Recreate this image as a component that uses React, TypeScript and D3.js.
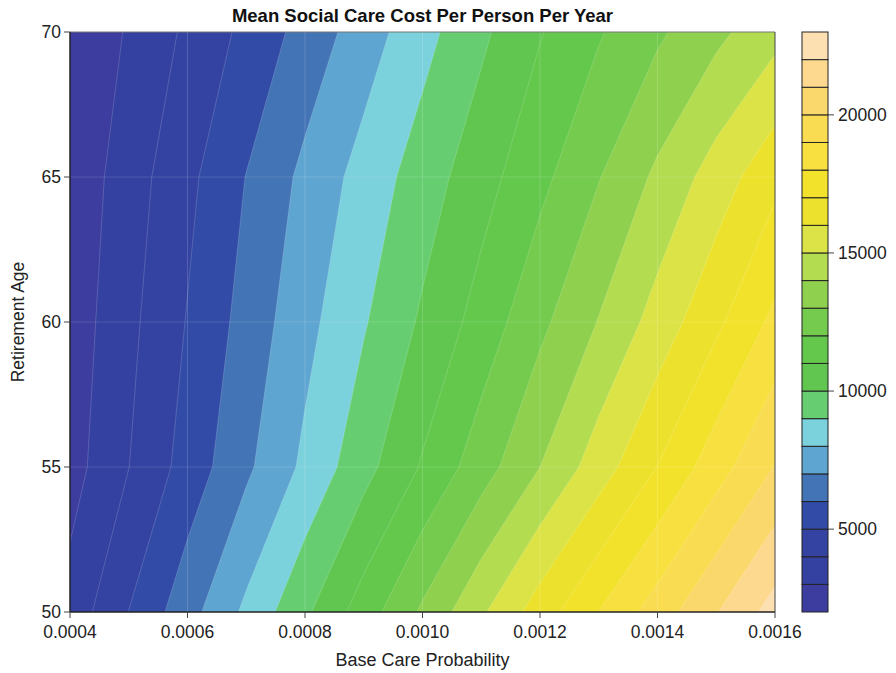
import { useMemo } from "react";
import * as d3 from "d3";

// grid of the underlying simulation runs
const probabilities = [
  0.0004, 0.0005, 0.0006, 0.0007, 0.0008, 0.0009, 0.001, 0.0011, 0.0012,
  0.0013, 0.0014, 0.0015, 0.0016,
];
const retirementAges = [50, 55, 60, 65, 70];

// mean cost per person per year, one row per retirement age
const costAge50 = [3380, 5013, 6613, 8211, 9812, 11487, 13166, 14844, 16500, 18012, 19480, 20949, 22417];
const costAge55 = [2589, 3987, 5396, 6812, 8215, 9651, 11102, 12549, 14000, 15512, 17021, 18555, 20043];
const costAge60 = [2420, 3747, 5056, 6367, 7683, 8908, 10156, 11399, 12761, 14047, 15404, 16790, 18250];
const costAge65 = [2276, 3515, 4752, 6026, 7249, 8383, 9488, 10605, 11724, 12952, 14203, 15462, 16739];
const costAge70 = [2034, 3111, 4186, 5259, 6363, 7499, 8655, 9798, 10936, 11899, 12830, 13756, 14682];

const contourLevels = d3.range(2000, 23000, 1000);
const bandColors = [
  "#3d3c9f", "#3541a0", "#3443a1", "#324ba6", "#4374b5", "#5fa5d1",
  "#7bd1dc", "#66ce71", "#60c64f", "#64c84c", "#74cb4d", "#8fd04e",
  "#b3dc50", "#dce346", "#ece22e", "#f2e22c", "#f7e040", "#f9dc52",
  "#fbd86b", "#fcd98f", "#fde0b1",
];
const xTicks = [0.0004, 0.0006, 0.0008, 0.001, 0.0012, 0.0014, 0.0016];
const yTicks = [50, 55, 60, 65, 70];
const barTicks = [5000, 10000, 15000, 20000];

const W = 896;
const H = 673;
const margin = { top: 32, right: 121, bottom: 61, left: 70 };
const FONT = "'Liberation Sans', Arial, Helvetica, sans-serif";

export default function App() {
  const plotW = W - margin.left - margin.right;
  const plotH = H - margin.top - margin.bottom;
  const x0 = margin.left;
  const y0 = margin.top;
  const x1 = x0 + plotW;
  const y1 = y0 + plotH;

  const x = d3.scaleLinear().domain([0.0004, 0.0016]).range([x0, x1]);
  const y = d3.scaleLinear().domain([50, 70]).range([y1, y0]);

  const nx = probabilities.length;
  const ny = retirementAges.length;
  // grid coordinates: value i sits at i + 0.5
  const gx = d3.scaleLinear().domain([0.5, nx - 0.5]).range([x(probabilities[0]), x(probabilities[nx - 1])]);
  const gy = d3.scaleLinear().domain([0.5, ny - 0.5]).range([y(retirementAges[0]), y(retirementAges[ny - 1])]);

  const contours = useMemo(() => {
    const rows = [costAge50, costAge55, costAge60, costAge65, costAge70];
    const values = rows.flat();
    return d3.contours().size([nx, ny]).thresholds(contourLevels)(values);
  }, [nx, ny]);

  const path = d3.geoPath(
    d3.geoTransform({
      point(px, py) {
        this.stream.point(gx(px), gy(py));
      },
    })
  );

  const bar = d3.scaleLinear().domain([2000, 23000]).range([y1, y0]);
  const barX = 802;
  const barW = 26;

  return (
    <svg
      width={W}
      height={H}
      style={{ position: "absolute", left: 0, top: 0, background: "#fff" }}
      fontFamily={FONT}
    >
      <defs>
        <clipPath id="plot-clip">
          <rect x={x0} y={y0} width={plotW} height={plotH} />
        </clipPath>
      </defs>

      <text x={(x0 + x1) / 2} y={22} textAnchor="middle" fontSize={18.5} fontWeight="bold" fill="#111">
        Mean Social Care Cost Per Person Per Year
      </text>

      <g clipPath="url(#plot-clip)">
        {contours.map((c, i) => (
          <path
            key={c.value}
            d={path(c) || ""}
            fill={bandColors[i]}
            stroke="rgba(255,255,255,0.28)"
            strokeWidth={0.6}
          />
        ))}
        {xTicks.slice(1, -1).map((t) => (
          <line key={t} x1={x(t)} x2={x(t)} y1={y0} y2={y1} stroke="rgba(255,255,255,0.16)" strokeWidth={1} />
        ))}
        {yTicks.slice(1, -1).map((t) => (
          <line key={t} x1={x0} x2={x1} y1={y(t)} y2={y(t)} stroke="rgba(255,255,255,0.13)" strokeWidth={1} />
        ))}
      </g>

      {/* frame */}
      <line x1={x0} x2={x1} y1={y0} y2={y0} stroke="#777" strokeWidth={1} />
      <line x1={x1} x2={x1} y1={y0} y2={y1} stroke="#444" strokeWidth={1} />
      <line x1={x0} x2={x0} y1={y0} y2={y1} stroke="#222" strokeWidth={1.5} />
      <line x1={x0} x2={x1} y1={y1} y2={y1} stroke="#222" strokeWidth={1.5} />

      {/* x axis */}
      {xTicks.map((t) => (
        <g key={t}>
          <line x1={x(t)} x2={x(t)} y1={y1} y2={y1 + 6} stroke="#444" />
          <text x={x(t)} y={y1 + 26} textAnchor="middle" fontSize={17.5} fill="#222">
            {d3.format(".4f")(t)}
          </text>
        </g>
      ))}
      <text x={(x0 + x1) / 2} y={H - 7} textAnchor="middle" fontSize={18} fill="#222">
        Base Care Probability
      </text>

      {/* y axis */}
      {yTicks.map((t) => (
        <g key={t}>
          <line x1={x0 - 6} x2={x0} y1={y(t)} y2={y(t)} stroke="#444" />
          <text x={x0 - 9} y={y(t)} dy="0.35em" textAnchor="end" fontSize={17.5} fill="#222">
            {t}
          </text>
        </g>
      ))}
      <text
        transform={`translate(24,${(y0 + y1) / 2}) rotate(-90)`}
        textAnchor="middle"
        fontSize={17.5}
        fill="#222"
      >
        Retirement Age
      </text>

      {/* colour bar */}
      {contourLevels.map((lo, i) => (
        <rect
          key={lo}
          x={barX}
          y={bar(lo + 1000)}
          width={barW}
          height={bar(lo) - bar(lo + 1000)}
          fill={bandColors[i]}
          stroke="#222"
          strokeWidth={1}
        />
      ))}
      {barTicks.map((t) => (
        <g key={t}>
          <line x1={barX + barW} x2={barX + barW + 6} y1={bar(t)} y2={bar(t)} stroke="#444" />
          <text x={barX + barW + 10} y={bar(t)} dy="0.35em" fontSize={17.5} fill="#222">
            {t}
          </text>
        </g>
      ))}
    </svg>
  );
}
